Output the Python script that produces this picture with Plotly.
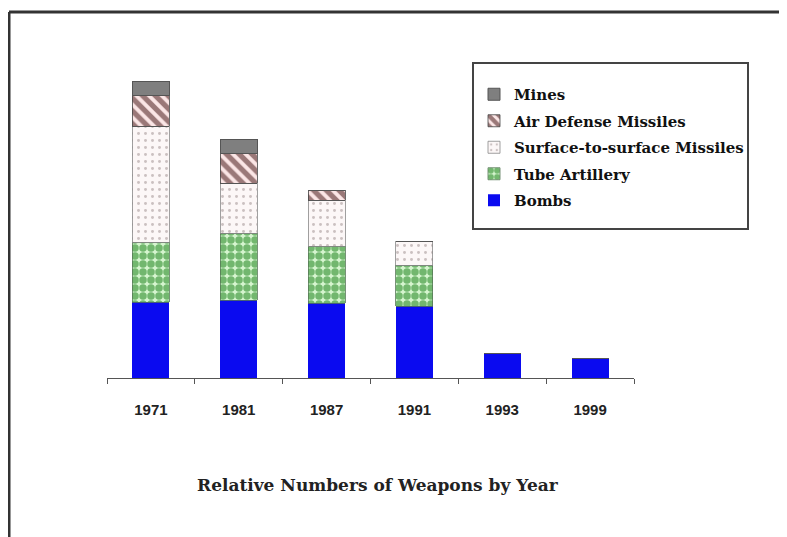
import plotly.graph_objects as go

# Data (relative units)
years = ['1971', '1981', '1987', '1991', '1993', '1999']
bombs = [76, 78, 75, 72, 25, 20]
tube_artillery = [60, 67, 57, 41, 0, 0]
surface_missiles = [116, 50, 46, 24, 0, 0]
air_defense = [31, 30, 10, 0, 0, 0]
mines = [14, 14, 0, 0, 0, 0]

series = [
    ('Bombs', bombs, dict(color='#0a0af0', line=dict(width=0))),
    ('Tube Artillery', tube_artillery,
     dict(color='#0e7a0e', line=dict(width=0.8, color='#557755'),
          pattern=dict(shape='.', fgcolor='#0e7a0e', bgcolor='#d6f5cf', size=8, solidity=0.7))),
    ('Surface-to-surface Missiles', surface_missiles,
     dict(color='#fbf6f6', line=dict(width=0.8, color='#888888'),
          pattern=dict(shape='.', fgcolor='#9a8a8a', bgcolor='#fcf7f7', size=7, solidity=0.14))),
    ('Air Defense Missiles', air_defense,
     dict(color='#3a0a0a', line=dict(width=0.8, color='#444444'),
          pattern=dict(shape='\\', fgcolor='#3a0a0a', bgcolor='#fbe6e6', size=9, solidity=0.58))),
    ('Mines', mines, dict(color='#7f7f7f', line=dict(width=1, color='#555555'))),
]

fig = go.Figure()
for rank, (name, vals, marker) in enumerate(series):
    fig.add_trace(go.Bar(x=years, y=vals, name=name, marker=marker,
                         legendgroup=name, legendrank=10 - rank, width=0.42))


def px_x(page_x):
    # page pixel -> paper x (plot area spans page x 107..634)
    return (page_x - 107) / 527


def px_y(page_y):
    # page pixel -> paper y (plot area spans page y 60..378)
    return (378 - page_y) / 318


# the page body has an 8px margin, so the figure margins are shifted by 8
fig.update_layout(
    barmode='stack',
    width=787, height=537,
    margin=dict(l=99, r=161, t=52, b=167),
    paper_bgcolor='white', plot_bgcolor='white',
    showlegend=True,
    legend=dict(
        x=px_x(474), y=px_y(78), xanchor='left', yanchor='top',
        tracegroupgap=4,
        borderwidth=0, bgcolor='rgba(0,0,0,0)',
        font=dict(family='DejaVu Serif', size=15, color='#111111', weight='bold'),
    ),
)

fig.update_xaxes(
    range=[-0.5, 5.5], showline=True, linecolor='#555555', linewidth=1,
    ticks='outside', tickson='boundaries', ticklen=5, tickcolor='#555555',
    ticklabelstandoff=18,
    tickfont=dict(family='Liberation Sans', size=15, color='#222222', weight='bold'),
    showgrid=False, zeroline=False,
)
fig.update_yaxes(range=[0, 318], visible=False)

# legend box
fig.add_shape(type='rect', xref='paper', yref='paper', layer='below',
              x0=px_x(473), x1=px_x(748), y0=px_y(63), y1=px_y(229),
              line=dict(color='#444444', width=2), fillcolor='white')

# Title under the axis
fig.add_annotation(
    text='<b>Relative Numbers of Weapons by Year</b>', xref='paper', yref='paper',
    x=px_x(378), y=px_y(485), xanchor='center', yanchor='middle',
    showarrow=False,
    font=dict(family='DejaVu Serif', size=17, color='#222222'),
)

# Outer frame (top and left edges)
fig.add_shape(type='line', xref='paper', yref='paper',
              x0=px_x(9), x1=px_x(800), y0=px_y(12), y1=px_y(12),
              line=dict(color='#333333', width=3))
fig.add_shape(type='line', xref='paper', yref='paper',
              x0=px_x(9), x1=px_x(9), y0=px_y(12), y1=px_y(550),
              line=dict(color='#333333', width=3))

fig.write_html('out.html')
